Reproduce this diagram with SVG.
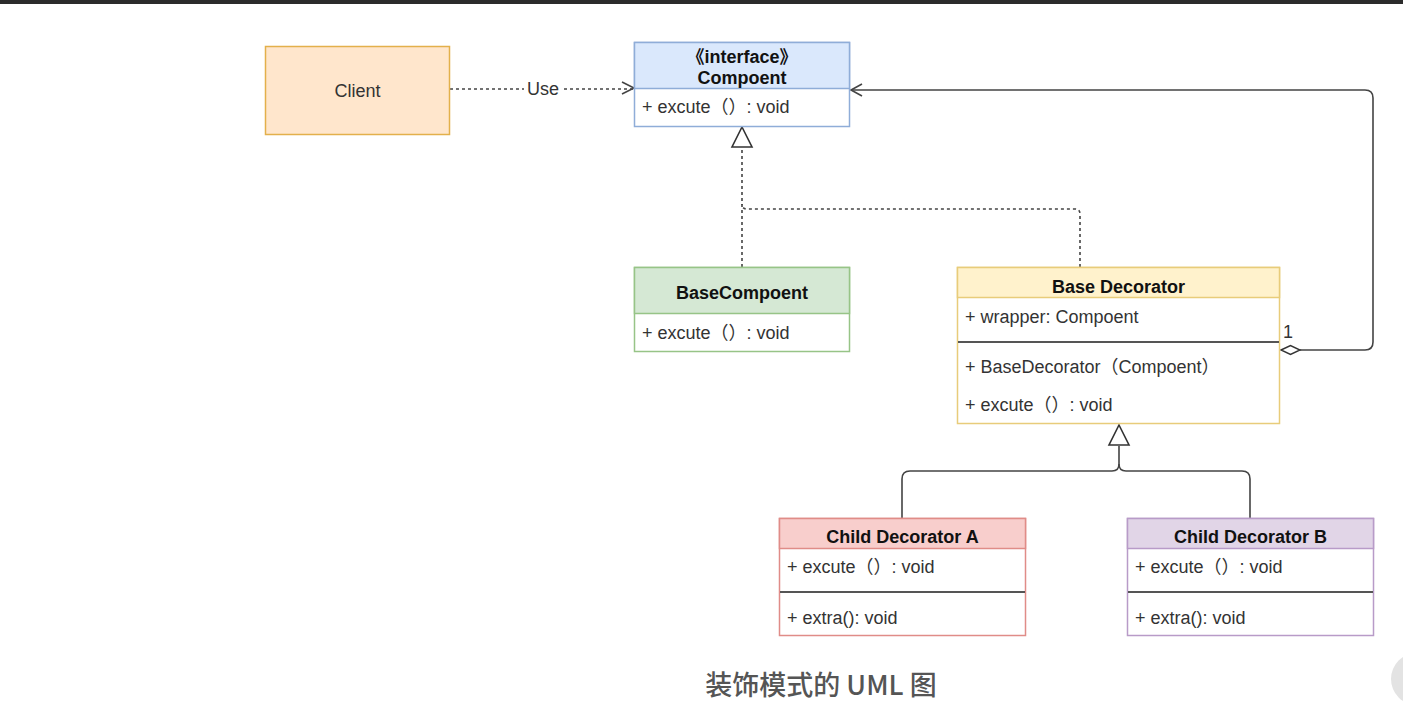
<svg xmlns="http://www.w3.org/2000/svg" width="1403" height="724" viewBox="0 0 1403 724">
<style>
text{font-family:"Liberation Sans","Noto Sans CJK SC",Arial,sans-serif;font-size:18px;fill:#333}
.b{font-weight:bold;fill:#111}
.c{text-anchor:middle}
.conn{fill:none;stroke:#444;stroke-width:1.6}
.dash{stroke-dasharray:3 3}
.div{stroke:#555;stroke-width:2}
</style>
<rect x="0" y="0" width="1403" height="724" fill="#fff"/>
<rect x="0" y="0" width="1403" height="4" fill="#2b2b2b"/>

<g id="connectors">
  <path class="conn dash" d="M450 89 H634"/>
  <path class="conn" d="M622 82 L634 88 L622 94"/>
  <rect x="524" y="78" width="38" height="20" fill="#fff"/>
  <text x="543" y="94.5" class="c">Use</text>

  <path class="conn dash" d="M742 267 V147"/>
  <path class="conn dash" d="M1080 267 V214 Q1080 209 1075 209 H747 Q742 209 742 204"/>
  <path d="M742 127 L752 147 H732 Z" fill="#fff" stroke="#333" stroke-width="1.6"/>

  <path class="conn" d="M1300 350 H1365 Q1373 350 1373 342 V98 Q1373 90 1365 90 H851"/>
  <path class="conn" d="M862 84 L851 90 L862 96"/>
  <path d="M1281 350 L1290.5 345.5 L1300 350 L1290.5 354.5 Z" fill="#fff" stroke="#333" stroke-width="1.4"/>
  <text x="1283" y="338">1</text>

  <path class="conn" d="M902 518 V479 Q902 471 910 471 H1112 Q1119 471 1119 464 V446"/>
  <path class="conn" d="M1250 518 V479 Q1250 471 1242 471 H1126 Q1119 471 1119 464"/>
  <path d="M1119 425 L1129 445 H1109 Z" fill="#fff" stroke="#333" stroke-width="1.6"/>
</g>

<g id="client">
  <rect x="265.5" y="46.5" width="184" height="88" fill="#ffe6cc" stroke="#e3b04b" stroke-width="1.5"/>
  <text x="357.5" y="96.5" class="c">Client</text>
</g>

<g id="compoent">
  <rect x="634.5" y="42.5" width="215" height="84" fill="#fff" stroke="#8fadd8" stroke-width="1.5"/>
  <rect x="634.5" y="42.5" width="215" height="46" fill="#dae8fc" stroke="#8fadd8" stroke-width="1.5"/>
  <text x="742" y="62.5" class="c b">《interface》</text>
  <text x="742" y="83.5" class="c b">Compoent</text>
  <text x="642" y="112.5">+ excute（）: void</text>
</g>

<g id="basecompoent">
  <rect x="634.5" y="267.5" width="215" height="84" fill="#fff" stroke="#97c487" stroke-width="1.5"/>
  <rect x="634.5" y="267.5" width="215" height="46" fill="#d5e8d4" stroke="#97c487" stroke-width="1.5"/>
  <text x="742" y="298.5" class="c b">BaseCompoent</text>
  <text x="642" y="338.5">+ excute（）: void</text>
</g>

<g id="basedecorator">
  <rect x="957.5" y="267.5" width="322" height="156" fill="#fff" stroke="#e8cc7a" stroke-width="1.5"/>
  <rect x="957.5" y="267.5" width="322" height="30" fill="#fff2cc" stroke="#e8cc7a" stroke-width="1.5"/>
  <text x="1118.5" y="292.5" class="c b">Base Decorator</text>
  <text x="965" y="322.5">+ wrapper: Compoent</text>
  <line class="div" x1="958" y1="342" x2="1279" y2="342"/>
  <text x="965" y="372.5">+ BaseDecorator（Compoent）</text>
  <text x="965" y="410.5">+ excute（）: void</text>
</g>

<g id="childA">
  <rect x="779.5" y="518.5" width="246" height="117" fill="#fff" stroke="#e08c88" stroke-width="1.5"/>
  <rect x="779.5" y="518.5" width="246" height="30" fill="#f8cecc" stroke="#e08c88" stroke-width="1.5"/>
  <text x="902.5" y="542.5" class="c b">Child Decorator A</text>
  <text x="787" y="572.5">+ excute（）: void</text>
  <line class="div" x1="780" y1="592" x2="1025" y2="592"/>
  <text x="787" y="623.5">+ extra(): void</text>
</g>

<g id="childB">
  <rect x="1127.5" y="518.5" width="246" height="117" fill="#fff" stroke="#b89bc8" stroke-width="1.5"/>
  <rect x="1127.5" y="518.5" width="246" height="30" fill="#e1d5e7" stroke="#b89bc8" stroke-width="1.5"/>
  <text x="1250.5" y="542.5" class="c b">Child Decorator B</text>
  <text x="1135" y="572.5">+ excute（）: void</text>
  <line class="div" x1="1128" y1="592" x2="1373" y2="592"/>
  <text x="1135" y="623.5">+ extra(): void</text>
</g>

<text x="821" y="695" class="c" style="font-family:'Noto Sans CJK SC','Noto Sans',sans-serif;font-size:27px;font-weight:500;fill:#555">装饰模式的 UML 图</text>
<circle cx="1417" cy="679" r="26" fill="#e3e3e3"/>
</svg>
